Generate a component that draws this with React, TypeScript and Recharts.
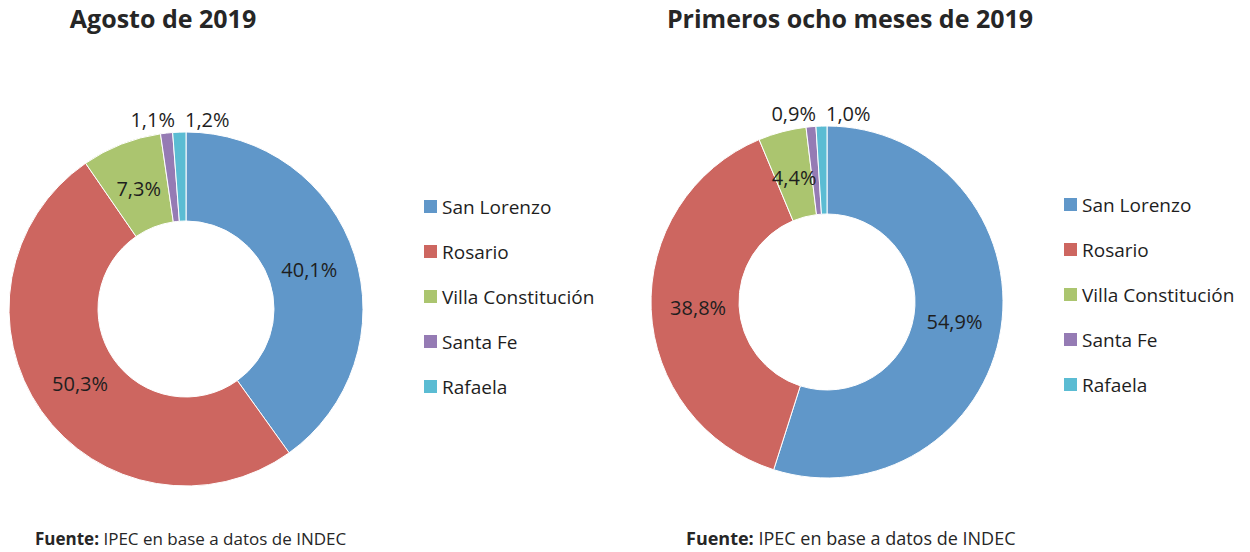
import { PieChart, Pie, Cell, Legend } from 'recharts'

const CIUDADES = ['San Lorenzo', 'Rosario', 'Villa Constitución', 'Santa Fe', 'Rafaela']
const AGOSTO = [40.1, 50.3, 7.3, 1.1, 1.2]
const OCHO_MESES = [54.9, 38.8, 4.4, 0.9, 1.0]
const COLORES = ['#6097c9', '#cd6660', '#abc56f', '#957bb4', '#5bbcd3']

const FUENTE = 'Open Sans, sans-serif'
const RAD = Math.PI / 180

const fmt = (v: number) => v.toFixed(1).replace('.', ',') + '%'

// etiquetas: dentro del anillo salvo las porciones chicas, que van arriba
const renderLabel = (p: any) => {
  const { cx, cy, midAngle, innerRadius, outerRadius, value, index } = p
  if (value < 2) {
    const esUltima = index === CIUDADES.length - 1
    return (
      <text
        x={esUltima ? cx - 1 : cx - 11}
        y={cy - outerRadius - 13}
        textAnchor={esUltima ? 'start' : 'end'}
        dominantBaseline="central"
        fontSize={20}
        fontFamily={FUENTE}
        fill="#1e1e1e"
      >
        {fmt(value)}
      </text>
    )
  }
  const r = (innerRadius + outerRadius) / 2 - 3
  const x = cx + r * Math.cos(-midAngle * RAD)
  const y = cy + r * Math.sin(-midAngle * RAD)
  return (
    <text x={x} y={y} textAnchor="middle" dominantBaseline="central" fontSize={20} fontFamily={FUENTE} fill="#1e1e1e">
      {fmt(value)}
    </text>
  )
}

const LeyendaCiudades = () => (
  <div style={{ fontFamily: FUENTE, fontSize: 19, color: '#1e1e1e' }}>
    {CIUDADES.map((c, i) => (
      <div key={c} style={{ display: 'flex', alignItems: 'center', height: 45 }}>
        <span style={{ width: 13, height: 13, background: COLORES[i], marginRight: 5, display: 'inline-block' }} />
        <span>{c}</span>
      </div>
    ))}
  </div>
)

function Dona({ valores, cx, cy, outer, legendLeft, legendTop }: {
  valores: number[]; cx: number; cy: number; outer: number; legendLeft: number; legendTop: number
}) {
  const data = CIUDADES.map((nombre, i) => ({ nombre, valor: valores[i] }))
  return (
    <PieChart width={625} height={552} margin={{ top: 0, right: 0, bottom: 0, left: 0 }}>
      <Pie
        data={data}
        dataKey="valor"
        nameKey="nombre"
        cx={cx}
        cy={cy}
        innerRadius={88}
        outerRadius={outer}
        startAngle={90}
        endAngle={-270}
        stroke="#ffffff"
        strokeWidth={1}
        label={renderLabel}
        labelLine={false}
        isAnimationActive={false}
      >
        {data.map((_, i) => (
          <Cell key={i} fill={COLORES[i]} />
        ))}
      </Pie>
      <Legend
        content={<LeyendaCiudades />}
        wrapperStyle={{ left: legendLeft, top: legendTop, width: 'auto' }}
      />
    </PieChart>
  )
}

export default function App() {
  const titulo = { position: 'absolute' as const, top: 1, fontFamily: FUENTE, fontSize: 25, fontWeight: 700, color: '#262626', textAlign: 'center' as const }
  const pie = { position: 'absolute' as const, top: 527, fontFamily: FUENTE, fontSize: 17, color: '#262626', whiteSpace: 'nowrap' as const }
  return (
    <div style={{ position: 'absolute', left: 0, top: 0, width: 1250, height: 552, background: '#fff', overflow: 'hidden' }}>
      <div style={{ position: 'absolute', left: 0, top: 0 }}>
        <Dona valores={AGOSTO} cx={186} cy={309} outer={177} legendLeft={424} legendTop={184} />
      </div>
      <div style={{ position: 'absolute', left: 625, top: 0 }}>
        <Dona valores={OCHO_MESES} cx={202} cy={302} outer={176} legendLeft={439} legendTop={182} />
      </div>
      <div style={{ ...titulo, left: 13, width: 300 }}>Agosto de 2019</div>
      <div style={{ ...titulo, left: 650, width: 400 }}>Primeros ocho meses de 2019</div>
      <div style={{ ...pie, left: 35 }}><b>Fuente:</b> IPEC en base a datos de INDEC</div>
      <div style={{ ...pie, left: 686, top: 526, fontSize: 18 }}><b>Fuente:</b> IPEC en base a datos de INDEC</div>
    </div>
  )
}
